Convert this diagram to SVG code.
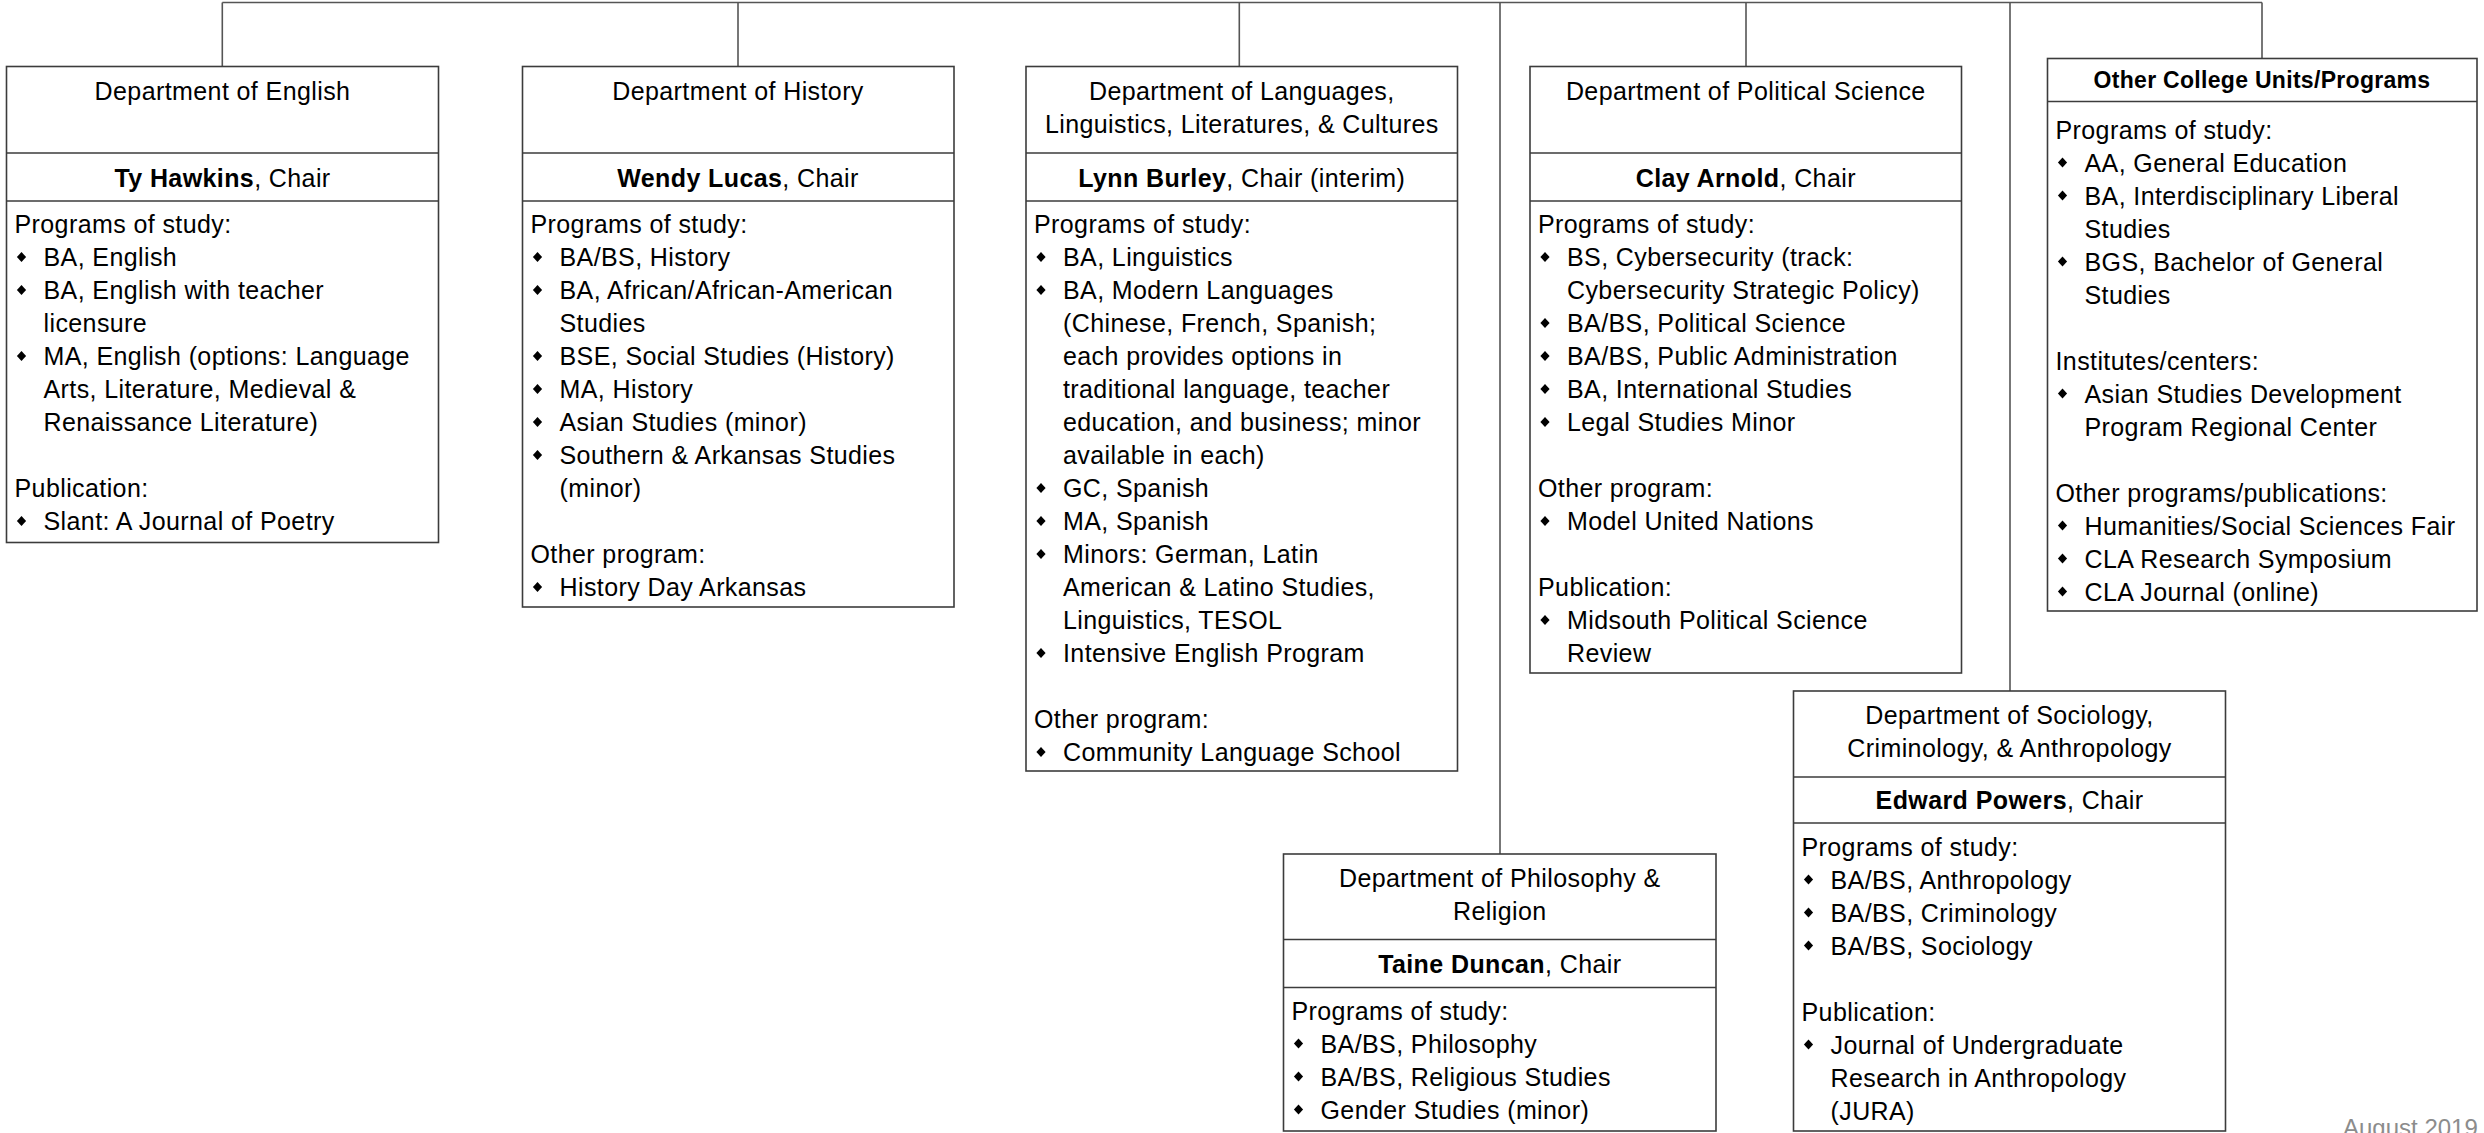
<svg xmlns="http://www.w3.org/2000/svg" xmlns:xlink="http://www.w3.org/1999/xlink" width="2484" height="1133" viewBox="0 0 2484 1133">
<style>
  .box { fill: #ffffff; stroke: #3c3c3c; stroke-width: 1.6; }
  .div { stroke: #3c3c3c; stroke-width: 1.6; fill: none; }
  .conn { stroke: #555555; stroke-width: 1.6; fill: none; }
  text { font-family: "Liberation Sans", Arial, sans-serif; font-size: 25px; fill: #000000; letter-spacing: 0.4px; }
  .c { text-anchor: middle; }
  .b { font-weight: bold; }
  .hb { font-weight: bold; font-size: 23px; letter-spacing: 0.3px; }
  .date { fill: #8c8c8c; font-size: 24px; letter-spacing: 0; }
  .bul { fill: #000000; }
</style>
<defs>
  <path id="d" class="bul" d="M0,-5 L4.6,0 L0,5 L-4.6,0 Z"/>
</defs>

<g id="connectors">
  <path class="conn" d="M222.3,2.5 H2262"/>
  <path class="conn" d="M222.3,2.5 V66.5"/>
  <path class="conn" d="M738,2.5 V66.5"/>
  <path class="conn" d="M1239.3,2.5 V66.5"/>
  <path class="conn" d="M1746,2.5 V66.5"/>
  <path class="conn" d="M1500,2.5 V854"/>
  <path class="conn" d="M2010,2.5 V691"/>
  <path class="conn" d="M2262,2.5 V58.5"/>
</g>

<g id="english">
  <rect class="box" x="6.5" y="66.5" width="432" height="476"/>
  <path class="div" d="M6.5,153 H438.5 M6.5,201 H438.5"/>
  <text class="c" x="222.5" y="100">Department of English</text>
  <text class="c" x="222.5" y="187"><tspan class="b">Ty Hawkins</tspan>, Chair</text>
  <text x="14.5" y="233">Programs of study:</text>
  <use xlink:href="#d" x="21.5" y="257"/><text x="43.5" y="266">BA, English</text>
  <use xlink:href="#d" x="21.5" y="290"/><text x="43.5" y="299">BA, English with teacher</text>
  <text x="43.5" y="332">licensure</text>
  <use xlink:href="#d" x="21.5" y="356"/><text x="43.5" y="365">MA, English (options: Language</text>
  <text x="43.5" y="398">Arts, Literature, Medieval &amp;</text>
  <text x="43.5" y="431">Renaissance Literature)</text>
  <text x="14.5" y="497">Publication:</text>
  <use xlink:href="#d" x="21.5" y="521"/><text x="43.5" y="530">Slant: A Journal of Poetry</text>
</g>

<g id="history">
  <rect class="box" x="522.5" y="66.5" width="431.5" height="540.5"/>
  <path class="div" d="M522.5,153 H954 M522.5,201 H954"/>
  <text class="c" x="738" y="100">Department of History</text>
  <text class="c" x="738" y="187"><tspan class="b">Wendy Lucas</tspan>, Chair</text>
  <text x="530.5" y="233">Programs of study:</text>
  <use xlink:href="#d" x="537.5" y="257"/><text x="559.5" y="266">BA/BS, History</text>
  <use xlink:href="#d" x="537.5" y="290"/><text x="559.5" y="299">BA, African/African-American</text>
  <text x="559.5" y="332">Studies</text>
  <use xlink:href="#d" x="537.5" y="356"/><text x="559.5" y="365">BSE, Social Studies (History)</text>
  <use xlink:href="#d" x="537.5" y="389"/><text x="559.5" y="398">MA, History</text>
  <use xlink:href="#d" x="537.5" y="422"/><text x="559.5" y="431">Asian Studies (minor)</text>
  <use xlink:href="#d" x="537.5" y="455"/><text x="559.5" y="464">Southern &amp; Arkansas Studies</text>
  <text x="559.5" y="497">(minor)</text>
  <text x="530.5" y="563">Other program:</text>
  <use xlink:href="#d" x="537.5" y="587"/><text x="559.5" y="596">History Day Arkansas</text>
</g>

<g id="languages">
  <rect class="box" x="1026" y="66.5" width="431.5" height="704.5"/>
  <path class="div" d="M1026,153 H1457.5 M1026,201 H1457.5"/>
  <text class="c" x="1241.8" y="100">Department of Languages,</text>
  <text class="c" x="1241.8" y="133">Linguistics, Literatures, &amp; Cultures</text>
  <text class="c" x="1241.8" y="187"><tspan class="b">Lynn Burley</tspan>, Chair (interim)</text>
  <text x="1034" y="233">Programs of study:</text>
  <use xlink:href="#d" x="1041" y="257"/><text x="1063" y="266">BA, Linguistics</text>
  <use xlink:href="#d" x="1041" y="290"/><text x="1063" y="299">BA, Modern Languages</text>
  <text x="1063" y="332">(Chinese, French, Spanish;</text>
  <text x="1063" y="365">each provides options in</text>
  <text x="1063" y="398">traditional language, teacher</text>
  <text x="1063" y="431">education, and business; minor</text>
  <text x="1063" y="464">available in each)</text>
  <use xlink:href="#d" x="1041" y="488"/><text x="1063" y="497">GC, Spanish</text>
  <use xlink:href="#d" x="1041" y="521"/><text x="1063" y="530">MA, Spanish</text>
  <use xlink:href="#d" x="1041" y="554"/><text x="1063" y="563">Minors: German, Latin</text>
  <text x="1063" y="596">American &amp; Latino Studies,</text>
  <text x="1063" y="629">Linguistics, TESOL</text>
  <use xlink:href="#d" x="1041" y="653"/><text x="1063" y="662">Intensive English Program</text>
  <text x="1034" y="728">Other program:</text>
  <use xlink:href="#d" x="1041" y="752"/><text x="1063" y="761">Community Language School</text>
</g>

<g id="political-science">
  <rect class="box" x="1530" y="66.5" width="431.5" height="606.5"/>
  <path class="div" d="M1530,153 H1961.5 M1530,201 H1961.5"/>
  <text class="c" x="1745.8" y="100">Department of Political Science</text>
  <text class="c" x="1745.8" y="187"><tspan class="b">Clay Arnold</tspan>, Chair</text>
  <text x="1538" y="233">Programs of study:</text>
  <use xlink:href="#d" x="1545" y="257"/><text x="1567" y="266">BS, Cybersecurity (track:</text>
  <text x="1567" y="299">Cybersecurity Strategic Policy)</text>
  <use xlink:href="#d" x="1545" y="323"/><text x="1567" y="332">BA/BS, Political Science</text>
  <use xlink:href="#d" x="1545" y="356"/><text x="1567" y="365">BA/BS, Public Administration</text>
  <use xlink:href="#d" x="1545" y="389"/><text x="1567" y="398">BA, International Studies</text>
  <use xlink:href="#d" x="1545" y="422"/><text x="1567" y="431">Legal Studies Minor</text>
  <text x="1538" y="497">Other program:</text>
  <use xlink:href="#d" x="1545" y="521"/><text x="1567" y="530">Model United Nations</text>
  <text x="1538" y="596">Publication:</text>
  <use xlink:href="#d" x="1545" y="620"/><text x="1567" y="629">Midsouth Political Science</text>
  <text x="1567" y="662">Review</text>
</g>

<g id="other-units">
  <rect class="box" x="2047.5" y="58.5" width="429.5" height="552.5"/>
  <path class="div" d="M2047.5,101.5 H2477"/>
  <text class="c hb" x="2262" y="88">Other College Units/Programs</text>
  <text x="2055.5" y="138.5">Programs of study:</text>
  <use xlink:href="#d" x="2062.5" y="162.5"/><text x="2084.5" y="171.5">AA, General Education</text>
  <use xlink:href="#d" x="2062.5" y="195.5"/><text x="2084.5" y="204.5">BA, Interdisciplinary Liberal</text>
  <text x="2084.5" y="237.5">Studies</text>
  <use xlink:href="#d" x="2062.5" y="261.5"/><text x="2084.5" y="270.5">BGS, Bachelor of General</text>
  <text x="2084.5" y="303.5">Studies</text>
  <text x="2055.5" y="369.5">Institutes/centers:</text>
  <use xlink:href="#d" x="2062.5" y="393.5"/><text x="2084.5" y="402.5">Asian Studies Development</text>
  <text x="2084.5" y="435.5">Program Regional Center</text>
  <text x="2055.5" y="501.5">Other programs/publications:</text>
  <use xlink:href="#d" x="2062.5" y="525.5"/><text x="2084.5" y="534.5">Humanities/Social Sciences Fair</text>
  <use xlink:href="#d" x="2062.5" y="558.5"/><text x="2084.5" y="567.5">CLA Research Symposium</text>
  <use xlink:href="#d" x="2062.5" y="591.5"/><text x="2084.5" y="600.5">CLA Journal (online)</text>
</g>

<g id="philosophy">
  <rect class="box" x="1283.5" y="854" width="432.5" height="277"/>
  <path class="div" d="M1283.5,939.5 H1716 M1283.5,987.5 H1716"/>
  <text class="c" x="1499.8" y="887">Department of Philosophy &amp;</text>
  <text class="c" x="1499.8" y="920">Religion</text>
  <text class="c" x="1499.8" y="973"><tspan class="b">Taine Duncan</tspan>, Chair</text>
  <text x="1291.5" y="1019.5">Programs of study:</text>
  <use xlink:href="#d" x="1298.5" y="1043.5"/><text x="1320.5" y="1052.5">BA/BS, Philosophy</text>
  <use xlink:href="#d" x="1298.5" y="1076.5"/><text x="1320.5" y="1085.5">BA/BS, Religious Studies</text>
  <use xlink:href="#d" x="1298.5" y="1109.5"/><text x="1320.5" y="1118.5">Gender Studies (minor)</text>
</g>

<g id="sociology">
  <rect class="box" x="1793.5" y="691" width="432" height="440"/>
  <path class="div" d="M1793.5,777 H2225.5 M1793.5,823 H2225.5"/>
  <text class="c" x="2009.5" y="723.5">Department of Sociology,</text>
  <text class="c" x="2009.5" y="757">Criminology, &amp; Anthropology</text>
  <text class="c" x="2009.5" y="808.5"><tspan class="b">Edward Powers</tspan>, Chair</text>
  <text x="1801.5" y="855.5">Programs of study:</text>
  <use xlink:href="#d" x="1808.5" y="879.5"/><text x="1830.5" y="888.5">BA/BS, Anthropology</text>
  <use xlink:href="#d" x="1808.5" y="912.5"/><text x="1830.5" y="921.5">BA/BS, Criminology</text>
  <use xlink:href="#d" x="1808.5" y="945.5"/><text x="1830.5" y="954.5">BA/BS, Sociology</text>
  <text x="1801.5" y="1020.5">Publication:</text>
  <use xlink:href="#d" x="1808.5" y="1044.5"/><text x="1830.5" y="1053.5">Journal of Undergraduate</text>
  <text x="1830.5" y="1086.5">Research in Anthropology</text>
  <text x="1830.5" y="1119.5">(JURA)</text>
</g>

<g id="footer">
  <text class="date" x="2343" y="1136">August 2019</text>
</g>
</svg>
